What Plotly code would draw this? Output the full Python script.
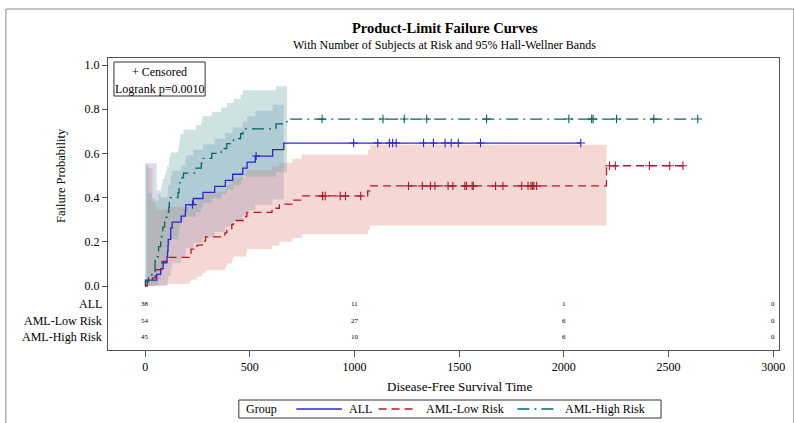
import math
import plotly.graph_objects as go

# ---------------- data (BMT: disease-free survival time, status 1 = event, 0 = censored)
groups = ["ALL", "AML-Low Risk", "AML-High Risk"]

all_time = [2081, 1602, 1496, 1462, 1433, 1377, 1330, 996, 226, 1199, 1111, 530, 1182, 1167,
            418, 383, 276, 104, 609, 172, 487, 662, 194, 230, 526, 122, 129, 74, 122, 86,
            466, 192, 109, 55, 1, 107, 110, 332]
all_status = [0, 0, 0, 0, 0, 0, 0, 0, 0, 0, 0, 0, 0, 0,
              1, 1, 1, 1, 1, 1, 1, 1, 1, 1, 1, 1, 1, 1, 1, 1,
              1, 1, 1, 1, 1, 1, 1, 1]

low_time = [2569, 2506, 2409, 2218, 1857, 1829, 1562, 1470, 1363, 1030, 860, 1258, 2246, 1870,
            1799, 1709, 1674, 1568, 1527, 1324, 957, 932, 847, 848, 1850, 1843, 1535, 1447, 1384,
            414, 2204, 1063, 481, 105, 641, 390, 288, 421, 79, 748, 486, 48, 272, 1074, 381,
            10, 53, 80, 35, 248, 704, 211, 219, 606]
low_status = [0, 0, 0, 0, 0, 0, 0, 0, 0, 0, 0, 0, 0, 0,
              0, 0, 0, 0, 0, 0, 0, 0, 0, 0, 0, 0, 0, 0, 0,
              1, 1, 1, 1, 1, 1, 1, 1, 1, 1, 1, 1, 1, 1, 1, 1,
              1, 1, 1, 1, 1, 1, 1, 1, 1]

high_time = [2640, 2430, 2252, 2140, 2133, 1238, 1631, 2024, 1345, 1136, 845,
             422, 162, 84, 100, 2, 47, 242, 456, 268, 318, 32, 467, 47, 390, 183, 105, 115,
             164, 93, 120, 80, 677, 64, 168, 74, 16, 157, 625, 48, 273, 63, 76, 113, 363]
high_status = [0, 0, 0, 0, 0, 0, 0, 0, 0, 0, 0,
               1, 1, 1, 1, 1, 1, 1, 1, 1, 1, 1, 1, 1, 1, 1, 1, 1,
               1, 1, 1, 1, 1, 1, 1, 1, 1, 1, 1, 1, 1, 1, 1, 1, 1]

# subjects at risk table
atrisk_times = [0, 1000, 2000, 3000]
atrisk_all = [38, 11, 1, 0]
atrisk_low = [54, 27, 6, 0]
atrisk_high = [45, 10, 6, 0]

x_ticks = [0, 500, 1000, 1500, 2000, 2500, 3000]
y_ticks = [0.0, 0.2, 0.4, 0.6, 0.8, 1.0]
y_ticktext = ["0.0", "0.2", "0.4", "0.6", "0.8", "1.0"]

title = "Product-Limit Failure Curves"
subtitle = "With Number of Subjects at Risk and 95% Hall-Wellner Bands"
logrank_text = "Logrank p=0.0010"
legend_title = "Group"

# ---------------- styles
line_colors = ["#2A25D9", "#B2182B", "#01665E"]
fill_colors = ["rgba(124,149,202,0.32)", "rgba(222,126,111,0.30)", "rgba(102,165,160,0.32)"]
dashes = ["solid", "8px,5px", "12px,5px,2px,5px"]
FONT = "Liberation Serif, Times New Roman, serif"
FRAME = "#555555"


def Phi(x):
    return 0.5 * (1.0 + math.erf(x / math.sqrt(2.0)))


def hw_crit(T, alpha=0.05):
    # critical value of sup|W0| over the band's range (Brownian motion vs. linear boundary)
    def p(c):
        return 2 * ((1 - Phi(c * (1 + T) / math.sqrt(T)))
                    + math.exp(-2 * c * c) * Phi(c * (T - 1) / math.sqrt(T)))
    lo, hi = 0.5, 3.0
    for _ in range(80):
        mid = 0.5 * (lo + hi)
        if p(mid) > alpha:
            lo = mid
        else:
            hi = mid
    return 0.5 * (lo + hi)


def product_limit(times, status):
    n = len(times)
    pairs = list(zip(times, status))
    at_risk = n
    S = 1.0
    gw = 0.0
    ev_t, ev_S, ev_gw = [], [], []
    cen_t, cen_F = [], []
    for t in sorted(set(times)):
        d = sum(1 for tt, s in pairs if tt == t and s == 1)
        c = sum(1 for tt, s in pairs if tt == t and s == 0)
        if d > 0:
            S *= (at_risk - d) / at_risk
            if at_risk - d > 0:
                gw += d / (at_risk * (at_risk - d))
            ev_t.append(t)
            ev_S.append(S)
            ev_gw.append(gw)
        if c > 0:
            cen_t.append(t)
            cen_F.append(1 - S)
        at_risk -= d + c
    return n, ev_t, ev_S, ev_gw, cen_t, cen_F


fig = go.Figure()
data_sets = [(all_time, all_status), (low_time, low_status), (high_time, high_status)]
results = [product_limit(t, s) for t, s in data_sets]

# ---- Hall-Wellner bands (arcsine-square-root transform)
for gi, (n, ev_t, ev_S, ev_gw, cen_t, cen_F) in enumerate(results):
    h = hw_crit(n * ev_gw[-1])
    lowF, upF = [], []
    for S, g in zip(ev_S, ev_gw):
        term = 0.5 * h * (1 + n * g) / math.sqrt(n) * math.sqrt(S / (1 - S))
        a = math.asin(math.sqrt(S))
        sl = math.sin(max(0.0, a - term)) ** 2
        su = math.sin(min(math.pi / 2, a + term)) ** 2
        lowF.append(1 - su)
        upF.append(1 - sl)
    xs, ys = [], []
    m = len(ev_t)
    for j in range(m - 1):
        xs += [ev_t[j], ev_t[j + 1]]
        ys += [upF[j], upF[j]]
    for j in range(m - 2, -1, -1):
        xs += [ev_t[j + 1], ev_t[j]]
        ys += [lowF[j], lowF[j]]
    fig.add_trace(go.Scatter(x=xs, y=ys, mode="lines", fill="toself",
                             fillcolor=fill_colors[gi], line=dict(width=0),
                             hoverinfo="skip", showlegend=False))

# ---- failure curves and censoring marks
for gi, (n, ev_t, ev_S, ev_gw, cen_t, cen_F) in enumerate(results):
    tmax = max(data_sets[gi][0])
    xs = [0] + ev_t + [tmax]
    ys = [0] + [1 - s for s in ev_S] + [1 - ev_S[-1]]
    fig.add_trace(go.Scatter(x=xs, y=ys, mode="lines", line_shape="hv",
                             line=dict(color=line_colors[gi], width=1.3, dash=dashes[gi]),
                             name=groups[gi], showlegend=False))
    fig.add_trace(go.Scatter(x=cen_t, y=cen_F, mode="markers",
                             marker=dict(symbol="cross-thin", size=6,
                                         line=dict(color=line_colors[gi], width=1.1)),
                             showlegend=False, hoverinfo="skip"))

# ---------------- layout geometry (pixels)
W, H = 794, 423
L, R, T, B = 108, 9, 58, 73
PW, PH = W - L - R, H - T - B


def px(xp):
    return (xp - L) / PW


def py(yp):
    return (H - B - yp) / PH


def label(text, x, y, size=12, xanchor="center", xref="paper", yref="paper", **kw):
    return dict(text=text, xref=xref, yref=yref, x=x, y=y, xanchor=xanchor,
                yanchor="middle", showarrow=False,
                font=dict(family=FONT, size=size, color="black"), **kw)


annotations = []
# titles
annotations.append(label("<b>" + title + "</b>", px(448), py(28), size=14.5))
annotations.append(label(subtitle, px(448), py(45), size=12))
# axis titles
annotations.append(label("Failure Probability", px(60), 0.5, size=12.5, yref="y",
                         textangle=-90))
annotations.append(label("Disease-Free Survival Time", 1500, py(386), size=13, xref="x"))
# inset box text
annotations.append(label("+ Censored", px(160), py(72)))
annotations.append(label(logrank_text, px(160), py(89)))

# at-risk table
row_y = [-0.081, -0.158, -0.233]
row_vals = [atrisk_all, atrisk_low, atrisk_high]
for gi in range(3):
    annotations.append(label(groups[gi], px(104), row_y[gi], yref="y", xanchor="right"))
    for tx, v in zip(atrisk_times, row_vals[gi]):
        annotations.append(label(str(v), tx, row_y[gi], size=7, xref="x", yref="y"))

shapes = [
    # outer frame (right and bottom sides fall outside the picture)
    dict(type="rect", xref="paper", yref="paper", x0=px(5), x1=px(800),
         y0=py(430), y1=py(9), line=dict(color="#888888", width=1)),
    # inset box
    dict(type="rect", xref="paper", yref="paper", x0=px(114), x1=px(206),
         y0=py(96), y1=py(62), line=dict(color="#333333", width=1),
         fillcolor="rgba(255,255,255,0)"),
    # legend box
    dict(type="rect", xref="paper", yref="paper", x0=px(240), x1=px(666),
         y0=py(418), y1=py(400), line=dict(color="#333333", width=1),
         fillcolor="white"),
]

# legend (drawn as shapes + text)
LEG_Y = 409
annotations.append(label(legend_title, px(245), py(LEG_Y), xanchor="left"))
leg_lines = [(298, 344, 349), (381, 420, 427), (521, 562, 567)]
for gi, (x0, x1, xt) in enumerate(leg_lines):
    shapes.append(dict(type="line", xref="paper", yref="paper", x0=px(x0), x1=px(x1),
                       y0=py(LEG_Y), y1=py(LEG_Y),
                       line=dict(color=line_colors[gi], width=1.3, dash=dashes[gi])))
    annotations.append(label(groups[gi], px(xt), py(LEG_Y), xanchor="left"))

fig.update_layout(
    width=W - 16, height=H - 16, autosize=False,
    margin=dict(l=L, r=R, t=T, b=B, pad=0),
    paper_bgcolor="white", plot_bgcolor="white",
    font=dict(family=FONT, size=12, color="black"),
    annotations=annotations, shapes=shapes,
    showlegend=False,
    xaxis=dict(range=[-177.6, 3028], tickvals=x_ticks, ticks="outside", ticklen=6,
               tickcolor=FRAME, showline=True, linecolor=FRAME, linewidth=1, mirror=True,
               showgrid=False, zeroline=False,
               tickfont=dict(family=FONT, size=12, color="black")),
    yaxis=dict(range=[-0.2896, 1.0317], tickvals=y_ticks, ticktext=y_ticktext,
               ticks="outside", ticklen=5, tickcolor=FRAME, showline=True, linecolor=FRAME,
               linewidth=1, mirror=True, showgrid=False, zeroline=False,
               tickfont=dict(family=FONT, size=12, color="black")),
)

post = ("document.documentElement.style.overflow='hidden';"
        "document.body.style.margin='0';document.body.style.padding='0';"
        "document.body.style.overflow='hidden';"
        "var gd=document.getElementById('{plot_id}');"
        "gd.style.width='794px';gd.style.height='423px';"
        "Plotly.relayout(gd,{width:794,height:423});")
fig.write_html("out.html", config={"displayModeBar": False, "responsive": False},
               post_script=post)
